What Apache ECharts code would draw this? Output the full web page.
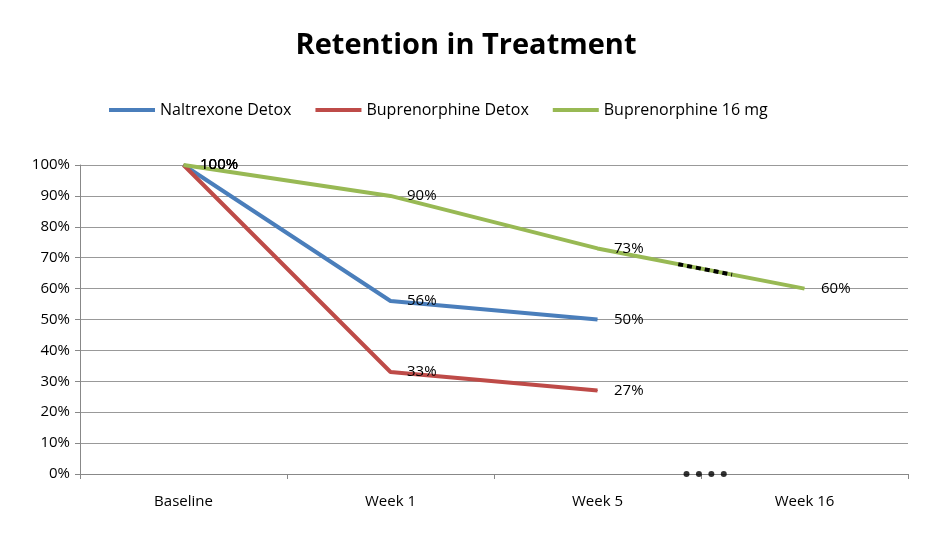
<!DOCTYPE html>
<html><head><meta charset="utf-8">
<script src="https://cdn.jsdelivr.net/npm/echarts@6/dist/echarts.min.js"></script>
<style>html,body{margin:0;padding:0;background:#fff}#c{width:932px;height:536px}</style>
</head><body><div id="c"></div>
<script>
const categories = ['Baseline','Week 1','Week 5','Week 16'];
const naltrexone = [100,56,50,null];
const bupDetox = [100,33,27,null];
const bup16 = [100,90,73,60];
const breakDots = [[2.93,0],[2.99,0],[3.05,0],[3.11,0]];
const breakDash = [[2.89,67.9],[3.15,64.5]];
const font = "'Open Sans','Liberation Sans',sans-serif";
const lbl = {show:true,position:'right',distance:16,color:'#000',fontSize:15,fontFamily:font,formatter:p=>p.value==null?'':p.value+'%'};
const sym = {symbol:'circle',symbolSize:1,showSymbol:true};
const chart = echarts.init(document.getElementById('c'));
chart.setOption({
  animation:false,
  title:{text:'Retention in Treatment',left:'center',top:26,textStyle:{fontSize:29,fontWeight:'bold',fontFamily:font,color:'#000'}},
  legend:{top:97,left:104,itemWidth:46,itemHeight:4,itemGap:24,textStyle:{fontSize:16,fontFamily:font,color:'#000'},
    data:['Naltrexone Detox','Buprenorphine Detox','Buprenorphine 16 mg'],icon:'rect'},
  grid:{left:80,right:24,top:165,bottom:62},
  xAxis:[{type:'category',data:categories,boundaryGap:true,axisTick:{show:true,length:5,lineStyle:{color:'#888'}},
    axisLine:{lineStyle:{color:'#888'}},axisLabel:{color:'#000',fontSize:15,fontFamily:font,margin:20}},
    {type:'value',min:0,max:4,show:false}],
  yAxis:{type:'value',min:0,max:100,interval:10,axisLine:{show:true,lineStyle:{color:'#888'}},axisTick:{show:true,length:5,lineStyle:{color:'#888'}},
    splitLine:{lineStyle:{color:'#999'}},axisLabel:{formatter:'{value}%',color:'#000',fontSize:15,fontFamily:font,margin:10}},
  series:[
    Object.assign({name:'Naltrexone Detox',type:'line',data:naltrexone,lineStyle:{width:4,color:'#4a7ebb'},itemStyle:{color:'#4a7ebb'},label:lbl},sym),
    Object.assign({name:'Buprenorphine Detox',type:'line',data:bupDetox,lineStyle:{width:4,color:'#be4b48'},itemStyle:{color:'#be4b48'},label:lbl},sym),
    Object.assign({name:'Buprenorphine 16 mg',type:'line',data:bup16,lineStyle:{width:4,color:'#98b954'},itemStyle:{color:'#98b954'},label:lbl},sym),
    {type:'line',xAxisIndex:1,data:breakDash,symbol:'none',lineStyle:{width:4,color:'#000',type:[5,4]},silent:true},
    {type:'scatter',xAxisIndex:1,data:breakDots,symbolSize:6,itemStyle:{color:'#000'},silent:true}
  ]
});
</script></body></html>
